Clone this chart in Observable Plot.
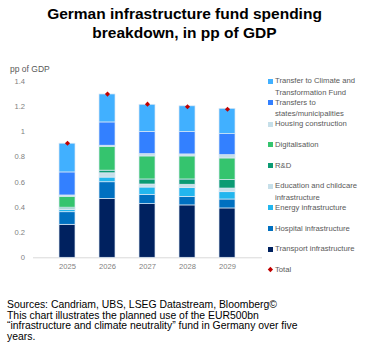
<!DOCTYPE html>
<html>
<head>
<meta charset="utf-8">
<script src="https://cdn.jsdelivr.net/npm/d3@7"></script>
<script src="https://cdn.jsdelivr.net/npm/@observablehq/plot@0.6"></script>
<style>
  html, body { margin: 0; padding: 0; background: #fff; }
  #wrap { position: relative; width: 369px; height: 364px; overflow: hidden; font-family: "Liberation Sans", Arial, sans-serif; }
  #title { position: absolute; left: 0; top: 4px; width: 369px; text-align: center; font-weight: bold; font-size: 15.5px; line-height: 19px; color: #000; }
  #ylab { position: absolute; left: 10px; top: 64px; font-size: 8.5px; color: #595959; }
  #chart { position: absolute; left: 0; top: 0; }
  .leg { position: absolute; left: 268px; font-size: 7.7px; line-height: 11.3px; color: #595959; white-space: nowrap; }
  .sw { position: absolute; left: 0; top: 3.4px; width: 4.8px; height: 4.8px; }
  .lt { position: absolute; left: 7px; top: 0; }
  #caption { position: absolute; left: 7px; top: 300px; width: 360px; font-size: 10.4px; line-height: 10.7px; color: #000; }
</style>
</head>
<body>
<div id="wrap">
  <div id="chart"></div>
  <div id="title">German infrastructure fund spending<br>breakdown, in pp of GDP</div>
  <div id="ylab">pp of GDP</div>
  <div id="legend"></div>
  <div id="caption">Sources: Candriam, UBS, LSEG Datastream, Bloomberg©<br>This chart illustrates the planned use of the EUR500bn<br>“infrastructure and climate neutrality” fund in Germany over five<br>years.</div>
</div>
<script>
const years = ["2025", "2026", "2027", "2028", "2029"];
const transport = [0.262, 0.468, 0.426, 0.416, 0.392];
const hospital  = [0.100, 0.132, 0.074, 0.068, 0.071];
const energy    = [0.018, 0.037, 0.058, 0.069, 0.058];
const education = [0.006, 0.034, 0.024, 0.027, 0.029];
const rnd       = [0.012, 0.021, 0.040, 0.042, 0.067];
const digital   = [0.087, 0.190, 0.183, 0.183, 0.172];
const housing   = [0.010, 0.008, 0.018, 0.016, 0.026];
const states    = [0.183, 0.185, 0.177, 0.178, 0.167];
const climate   = [0.228, 0.222, 0.215, 0.204, 0.201];
const totals    = [0.91, 1.30, 1.22, 1.20, 1.18];
const yTicks = [0, 0.2, 0.4, 0.6, 0.8, 1, 1.2, 1.4];

const seriesNames = [
  "Transport infrastructure", "Hospital infrastructure", "Energy infrastructure",
  "Education and childcare infrastructure", "R&D", "Digitalisation",
  "Housing construction", "Transfers to states/municipalities",
  "Transfer to Climate and Transformation Fund"
];
const seriesValues = [transport, hospital, energy, education, rnd, digital, housing, states, climate];
const seriesColors = ["#00215f", "#0070c0", "#22b6ee", "#c6dfe9", "#0b9b73", "#35c46e", "#c6dfe9", "#3380ff", "#41b0ff"];

const rows = [];
seriesNames.forEach((s, i) => years.forEach((y, j) => rows.push({year: y, series: s, value: seriesValues[i][j]})));
const totalRows = years.map((y, j) => ({year: y, total: totals[j]}));

const chart = Plot.plot({
  width: 369,
  height: 280,
  marginTop: 81,
  marginBottom: 22.7,
  marginLeft: 33,
  marginRight: 107,
  style: {fontFamily: "Liberation Sans, Arial, sans-serif", fontSize: "7.6px", color: "#7f7f7f", background: "transparent"},
  x: {domain: years, padding: 0.59, label: null, tickSize: 0, tickPadding: 6},
  y: {domain: [0, 1.4], ticks: yTicks, tickFormat: d => String(+d.toFixed(1)), label: null, tickSize: 0, tickPadding: 8.5},
  color: {domain: seriesNames, range: seriesColors},
  marks: [
    Plot.ruleY([0], {stroke: "#d9d9d9", strokeWidth: 1}),
    Plot.barY(rows, Plot.stackY({order: seriesNames}, {x: "year", y: "value", fill: "series", stroke: "#dce8f4", strokeWidth: 0.7})),
    Plot.dot(totalRows, {x: "year", y: "total", symbol: "diamond2", r: 2.3, fill: "#c00000", stroke: null})
  ]
});
document.getElementById("chart").appendChild(chart);

const legendItems = [
  {lines: ["Transfer to Climate and", "Transformation Fund"], color: "#41b0ff", y: 81},
  {lines: ["Transfers to", "states/municipalities"], color: "#3380ff", y: 102.7},
  {lines: ["Housing construction"], color: "#c6dfe9", y: 124},
  {lines: ["Digitalisation"], color: "#35c46e", y: 144.3},
  {lines: ["R&D"], color: "#0b9b73", y: 165.3},
  {lines: ["Education and childcare", "infrastructure"], color: "#c6dfe9", y: 186},
  {lines: ["Energy infrastructure"], color: "#22b6ee", y: 207.3},
  {lines: ["Hospital infrastructure"], color: "#0070c0", y: 228.3},
  {lines: ["Transport infrastructure"], color: "#00215f", y: 249},
  {lines: ["Total"], color: "#c00000", y: 269.3, diamond: true}
];
const leg = document.getElementById("legend");
legendItems.forEach(it => {
  const d = document.createElement("div");
  d.className = "leg";
  d.style.top = (it.y - 5.65) + "px";
  const sw = document.createElement("div");
  sw.className = "sw";
  sw.style.background = it.color;
  if (it.diamond) { sw.style.transform = "rotate(45deg) scale(0.75)"; }
  const t = document.createElement("div");
  t.className = "lt";
  t.innerHTML = it.lines.map(l => l.replace(/&/g, "&amp;")).join("<br>");
  d.appendChild(sw); d.appendChild(t);
  leg.appendChild(d);
});
</script>
</body>
</html>
